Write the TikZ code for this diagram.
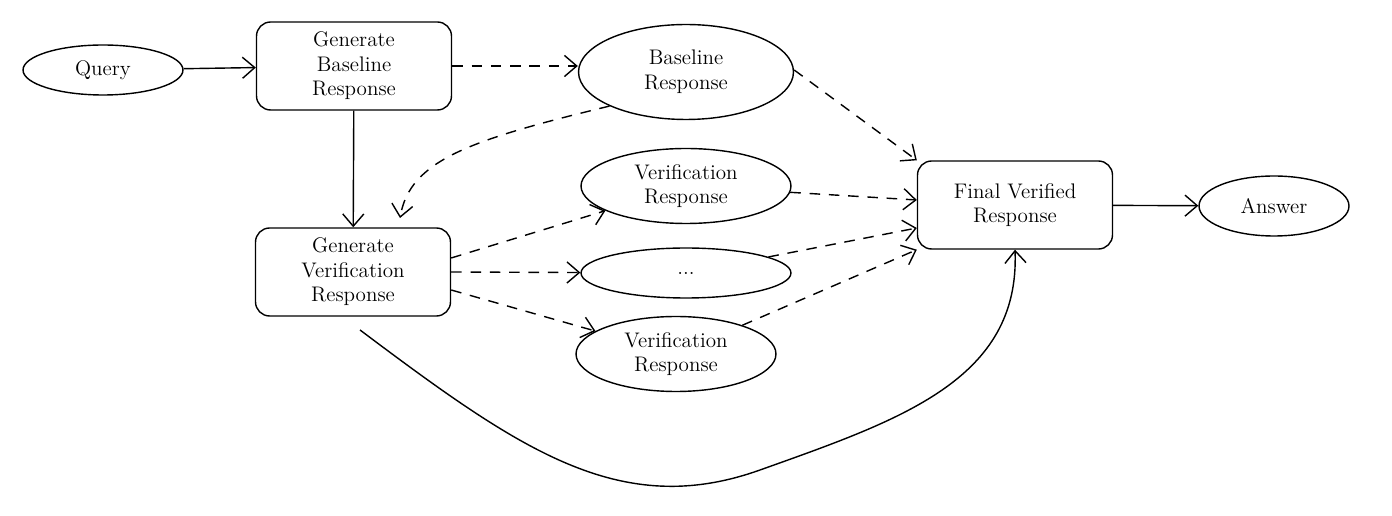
\documentclass[tikz,border=0pt]{standalone}
\usepackage{xcolor}
\usetikzlibrary{arrows.meta,shapes.geometric,positioning}

\tikzset{
   box/.style = {draw, thick, rounded corners=8pt, align=center, minimum width=3.9cm, minimum height=1.76cm},
   oval/.style = {draw, thick, ellipse, align=center, inner sep=0pt},
   link/.style = {thick, -{Straight Barb[length=7pt,width=12pt]}},
   dlink/.style = {link, dashed, dash pattern=on 6pt off 5pt}
}

\begin{document}
\begin{tikzpicture}[x=0.02cm, y=-0.02cm, font=\large]
   \useasboundingbox (0,0) rectangle (1392,516);
   % nodes
   \node[oval, minimum width=3.2cm, minimum height=1cm] (query) at (103,70) {Query};
   \node[box] (genbase) at (354,66) {Generate\\Baseline\\Response};
   \node[oval, minimum width=4.3cm, minimum height=1.9cm] (base) at (686,72) {Baseline\\Response};
   \node[box] (genver) at (353,272) {Generate\\Verification\\Response};
   \node[oval, minimum width=4.2cm, minimum height=1.5cm] (ver1) at (686,186) {Verification\\Response};
   \node[oval, minimum width=4.2cm, minimum height=1cm] (dots) at (686,273) {...};
   \node[oval, minimum width=4cm, minimum height=1.5cm] (ver2) at (676,354) {Verification\\Response};
   \node[box] (final) at (1015,205) {Final Verified\\Response};
   \node[oval, minimum width=3cm, minimum height=1.2cm] (answer) at (1274,206) {Answer};
   % connectors
   \draw[link] (query) -- (genbase);
   \draw[dlink] (genbase.east |- 0,66) -- (base.west |- 0,66);
   \draw[link] (genbase) -- (genver);
   \draw[dlink] (base.south west) .. controls (470,140) and (410,160) .. (400,218);
   \draw[dlink] (genver.east |- 0,258) -- (ver1);
   \draw[dlink] (genver.east |- 0,272) -- (dots);
   \draw[dlink] (genver.east |- 0,290) -- (ver2);
   \draw[dlink] (base.east |- 0,70) -- (final.north west);
   \draw[dlink] (ver1) -- (final.west |- 0,200);
   \draw[dlink] (dots) -- (final.west |- 0,228);
   \draw[dlink] (ver2) -- (final.south west);
   \draw[link] (final) -- (answer);
   \draw[link] (360,330) .. controls (520,450) and (620,520) .. (760,470)
      .. controls (900,420) and (1020,380) .. (final.south);
\end{tikzpicture}
\end{document}
